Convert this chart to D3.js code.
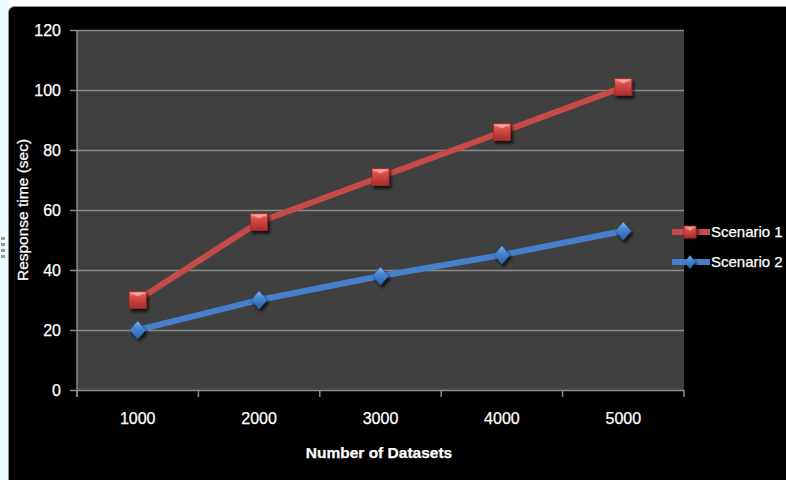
<!DOCTYPE html>
<html>
<head>
<meta charset="utf-8">
<script src="https://cdn.jsdelivr.net/npm/d3@7"></script>
<style>
  html, body { margin: 0; padding: 0; background: #ffffff; }
  svg { display: block; }
  text { font-family: "Liberation Sans", Arial, sans-serif; fill: #ffffff; stroke: #ffffff; stroke-width: 0.25px; }
</style>
</head>
<body>
<svg id="chart" width="786" height="480"></svg>
<script>
// Response time per dataset count, two scenarios
const categories = ["1000", "2000", "3000", "4000", "5000"];
const scenario1 = [30, 56, 71, 86, 101];
const scenario2 = [20, 30, 38, 45, 53];
const seriesNames = ["Scenario 1", "Scenario 2"];
const yTicks = [0, 20, 40, 60, 80, 100, 120];

const W = 786, H = 480;
const plot = { left: 77, right: 684, top: 30, bottom: 390 };
const red = "#c64b48", blue = "#4680cc";

const svg = d3.select("#chart");
const defs = svg.append("defs");

// drop shadow for markers
const shadow = defs.append("filter").attr("id", "mshadow")
  .attr("x", "-50%").attr("y", "-50%").attr("width", "200%").attr("height", "200%");
shadow.append("feDropShadow").attr("dx", 2).attr("dy", 3)
  .attr("stdDeviation", 1.6).attr("flood-color", "#000").attr("flood-opacity", 0.7);

// bevelled fills for the markers
const gRed = defs.append("linearGradient").attr("id", "gRed")
  .attr("x1", 0).attr("y1", 0).attr("x2", 0).attr("y2", 1);
gRed.append("stop").attr("offset", "0%").attr("stop-color", "#f29a96");
gRed.append("stop").attr("offset", "28%").attr("stop-color", "#d9504c");
gRed.append("stop").attr("offset", "100%").attr("stop-color", "#a92d2a");
const gBlue = defs.append("linearGradient").attr("id", "gBlue")
  .attr("x1", 0).attr("y1", 0).attr("x2", 0).attr("y2", 1);
gBlue.append("stop").attr("offset", "0%").attr("stop-color", "#8dbcf0");
gBlue.append("stop").attr("offset", "35%").attr("stop-color", "#4a8ad6");
gBlue.append("stop").attr("offset", "100%").attr("stop-color", "#2a62aa");

// window frame: white top strip, pale left strip with grip dots
svg.append("rect").attr("x", 0).attr("y", 0).attr("width", W).attr("height", H).attr("fill", "#ffffff");
svg.append("rect").attr("x", 0).attr("y", 0).attr("width", 8).attr("height", H).attr("fill", "#eafcfd");
[237, 243, 249, 255].forEach(y => {
  svg.append("rect").attr("x", 1).attr("y", y).attr("width", 4).attr("height", 3).attr("fill", "#9a9a9a");
});

// chart area background
svg.append("rect").attr("x", 8.5).attr("y", 6.5).attr("width", W + 20).attr("height", H + 20)
  .attr("rx", 6).attr("fill", "#000000").attr("stroke", "#8a9090").attr("stroke-width", 1);

// plot area
svg.append("rect").attr("x", plot.left).attr("y", plot.top)
  .attr("width", plot.right - plot.left).attr("height", plot.bottom - plot.top)
  .attr("fill", "#404040");

const x = d3.scaleBand().domain(categories).range([plot.left, plot.right]).padding(0);
const y = d3.scaleLinear().domain([0, 120]).range([plot.bottom, plot.top]);
const cx = c => x(c) + x.bandwidth() / 2;

// horizontal gridlines with tick marks on the left
const yAxis = d3.axisLeft(y).tickValues(yTicks).tickSize(-(plot.right - plot.left)).tickPadding(0).tickFormat("");
const yg = svg.append("g").attr("transform", `translate(${plot.left},0)`).call(yAxis);
yg.select(".domain").remove();
yg.selectAll(".tick line").attr("stroke", "#8a8a8a").attr("stroke-width", 1.5).attr("x1", -7);

// y tick labels
svg.append("g").selectAll("text").data(yTicks).join("text")
  .attr("x", 61).attr("y", d => y(d)).attr("dy", "0.36em")
  .attr("text-anchor", "end").attr("font-size", 16).text(d => d);

// y axis line
svg.append("line").attr("x1", plot.left).attr("x2", plot.left)
  .attr("y1", plot.top).attr("y2", plot.bottom + 7)
  .attr("stroke", "#8a8a8a").attr("stroke-width", 1.5);

// x axis tick marks at category boundaries
const bounds = categories.map(c => x(c)).concat([plot.right]);
svg.append("g").selectAll("line").data(bounds).join("line")
  .attr("x1", d => d).attr("x2", d => d).attr("y1", plot.bottom).attr("y2", plot.bottom + 7)
  .attr("stroke", "#8a8a8a").attr("stroke-width", 1.5);

// x tick labels
svg.append("g").selectAll("text").data(categories).join("text")
  .attr("x", d => cx(d)).attr("y", 424)
  .attr("text-anchor", "middle").attr("font-size", 16).text(d => d);

// axis titles
svg.append("text").attr("x", 379).attr("y", 458).attr("text-anchor", "middle")
  .attr("font-size", 15.5).attr("font-weight", "bold").text("Number of Datasets");
svg.append("text").attr("transform", "translate(28,210) rotate(-90)")
  .attr("text-anchor", "middle").attr("font-size", 15.5).text("Response time (sec)");

// series lines
const line = d3.line().x(d => cx(d.c)).y(d => y(d.v));
const s1 = categories.map((c, i) => ({ c, v: scenario1[i] }));
const s2 = categories.map((c, i) => ({ c, v: scenario2[i] }));

svg.append("path").datum(s1).attr("d", line).attr("fill", "none")
  .attr("stroke", red).attr("stroke-width", 6).attr("stroke-linejoin", "round");
svg.append("path").datum(s2).attr("d", line).attr("fill", "none")
  .attr("stroke", blue).attr("stroke-width", 6).attr("stroke-linejoin", "round");

// markers
function square(sel, px, py, s) {
  const g = sel.append("g").attr("transform", `translate(${px},${py})`).attr("filter", "url(#mshadow)");
  g.append("rect").attr("x", -s / 2).attr("y", -s / 2).attr("width", s).attr("height", s)
    .attr("fill", "url(#gRed)").attr("stroke", "#9c2a27").attr("stroke-width", 0.8);
  g.append("path").attr("d", `M${-s / 2 + 2},${-s / 2 + 1.5}L${s / 2 - 2},${-s / 2 + 1.5}L0,${-s / 2 + 5}Z`)
    .attr("fill", "#ffc4c0").attr("opacity", 0.6);
}
function diamond(sel, px, py, w, h) {
  const g = sel.append("g").attr("transform", `translate(${px},${py})`).attr("filter", "url(#mshadow)");
  g.append("path").attr("d", `M0,${-h / 2}L${w / 2},0L0,${h / 2}L${-w / 2},0Z`)
    .attr("fill", "url(#gBlue)").attr("stroke", "#2a5c9c").attr("stroke-width", 0.6);
}

const mk = svg.append("g");
s1.forEach(d => square(mk, cx(d.c), y(d.v), 17));
s2.forEach(d => diamond(mk, cx(d.c), y(d.v), 16, 18));

// legend
const legend = svg.append("g");
const legY = [232, 262];
legend.append("line").attr("x1", 672).attr("x2", 710).attr("y1", legY[0]).attr("y2", legY[0])
  .attr("stroke", red).attr("stroke-width", 6);
square(legend, 690, legY[0], 12);
legend.append("line").attr("x1", 672).attr("x2", 710).attr("y1", legY[1]).attr("y2", legY[1])
  .attr("stroke", blue).attr("stroke-width", 6);
diamond(legend, 690, legY[1], 11, 13);
legend.selectAll("text.leg").data(seriesNames).join("text").attr("class", "leg")
  .attr("x", 711).attr("y", (d, i) => legY[i]).attr("dy", "0.36em")
  .attr("font-size", 15).text(d => d);
</script>
</body>
</html>
